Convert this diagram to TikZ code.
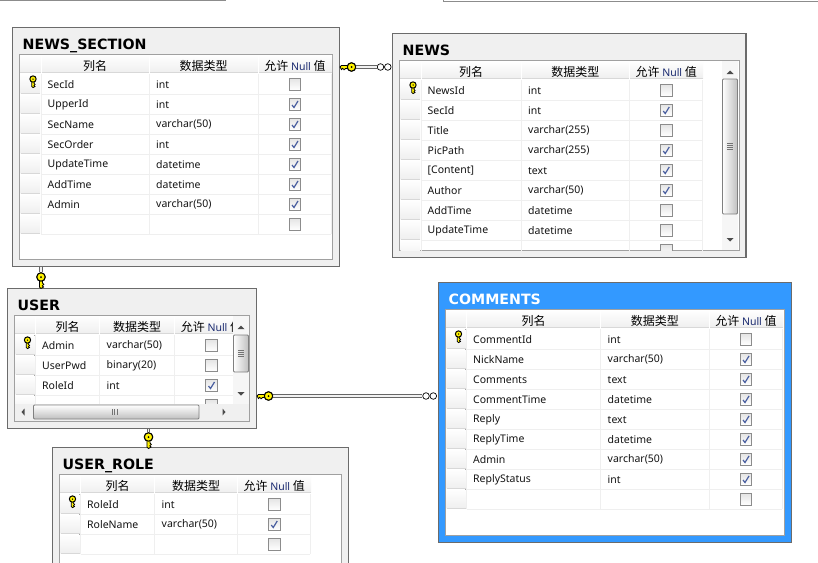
\documentclass[tikz,border=0pt]{standalone}
\usepackage{fontspec}
\setmainfont{Noto Sans}
\newfontfamily\cjk{Noto Sans CJK SC}
\newfontfamily\titlefont{DejaVu Sans}
\usetikzlibrary{calc}
\definecolor{boxgrey}{HTML}{F0F0F0}
\definecolor{selblue}{HTML}{3399FF}
\definecolor{framegrey}{HTML}{A0A0A0}
\definecolor{gridgrey}{HTML}{EFEFEF}
\definecolor{headline}{HTML}{D8D8D8}
\definecolor{nullblue}{HTML}{1A2A70}
\definecolor{checkblue}{HTML}{4A5FA0}
\colorlet{boxcol}{boxgrey}
\colorlet{titlecol}{black}
% column edges and the lowest visible row pixel
\newcommand{\cols}[5]{\def\ca{#1}\def\cb{#2}\def\cc{#3}\def\cd{#4}\def\rowend{#5}}
\newcommand{\dbtable}[7]{
  \pgfmathsetmacro{\inl}{#3+7}
  \pgfmathsetmacro{\inr}{#5-7}
  \pgfmathsetmacro{\intop}{#4+27}
  \pgfmathsetmacro{\inbot}{#6-7}
  \pgfmathsetmacro{\headbot}{#4+45}
  \pgfmathsetmacro{\headtxt}{#4+38}
  \node [tablebox,minimum width=#5pt-#3pt,minimum height=#6pt-#4pt] (#1) at ({(#3+#5)/2},{(#4+#6)/2}) {};
  \node [tabletitle] (#1title) at (#3+10,#4+22.2) {#2};
  \node [tableframe,minimum width=\inr pt-\inl pt,minimum height=\inbot pt-\intop pt] (#1frame) at ({(\inl+\inr)/2},{(\intop+\inbot)/2}) {};
  \begin{scope}
    \clip (\inl+.5,\intop+.5) rectangle (\inr-.5,\rowend);
    \fill [top color=white,bottom color=gridgrey] (\inl,\intop) rectangle (\cd,\headbot);
    \draw [headline,line width=1.6pt] (\inl,\headbot) -- (\cd,\headbot);
    \foreach \hx in {\ca,\cb,\cc}
      \draw [white,line width=1pt] (\hx,\intop) -- (\hx,\headbot);
    \node [headtext] (#1h1) at ({(\ca+\cb)/2},\headtxt) {\cjk 列名};
    \node [headtext] (#1h2) at ({(\cb+\cc)/2},\headtxt) {\cjk 数据类型};
    \node [headtext] (#1h3) at ({(\cc+\cd)/2},\headtxt) {\cjk 允许 {\fontsize{10.5}{12}\selectfont\rmfamily\color{nullblue}Null} 值};
    \foreach \cname/\ctype/\cnull [count=\i from 0] in {#7} {
      \pgfmathsetmacro{\rt}{#4+46.5+20*\i}
      \pgfmathsetmacro{\rb}{\rt+20}
      \pgfmathsetmacro{\rm}{\rt+10}
      \fill [top color=white,bottom color=gridgrey] (\inl+1,\rt) rectangle (\ca-1,\rb-1);
      \draw [headline] (\inl+1,\rb-1) -- (\ca-1,\rb-1);
      \draw [gridgrey] (\ca,\rb) -- (\cd-1,\rb);
      \foreach \hx in {\ca,\cb,\cc}
        \draw [gridgrey] (\hx,\rt) -- (\hx,\rb);
      \draw [gridgrey] (\cd-1,\rt) -- (\cd-1,\rb);
      \node [rowtext] (#1n\i) at (\ca+6.5,\rm+.8) {\cname};
      \node [rowtext] (#1t\i) at (\cb+7,\rm+.8) {\ctype};
      \node [checkbox] (#1c\i) at ({(\cc+\cd)/2},\rm+.5) {};
      \ifnum\cnull=1
        \draw [checkmark] ($(#1c\i)+(-3,.5)$) -- ($(#1c\i)+(-1,3)$) -- ($(#1c\i)+(3,-3.5)$);
      \fi
    }
    \pic [rotate=90,scale=.75] at ({\ca-8},#4+51.5) {relkey};
  \end{scope}
}
% x0,x1 track, y0,y1 track, thumb top and bottom
\newcommand{\vscroll}[6]{
  \fill [boxgrey!60!white] (#1,#3) rectangle (#2,#4);
  \draw [thumb,top color=boxgrey,bottom color=boxgrey,left color=white,right color=black!25] (#1+.5,#5) rectangle (#2-.5,#6);
  \fill [black!70] ({(#1+#2)/2-3.5},#3+13) -- ({(#1+#2)/2+3.5},#3+13) -- ({(#1+#2)/2},#3+9.5) -- cycle;
  \fill [black!70] ({(#1+#2)/2-3.5},#4-12) -- ({(#1+#2)/2+3.5},#4-12) -- ({(#1+#2)/2},#4-8.5) -- cycle;
  \foreach \gy in {-3,-1,1,3}
    \draw [black!55,line width=.6pt] ({(#1+#2)/2-3},{(#5+#6)/2+\gy}) -- ({(#1+#2)/2+3},{(#5+#6)/2+\gy});
}
\tikzset{
  relkey/.pic={
    \draw [black,fill=yellow,line width=.8pt] (-3,-1.6) -- (-10,-1.6) -- (-11.5,0) -- (-10,2.6) -- (-8.8,1.3) -- (-7.4,2.8) -- (-6,1.5) -- (-3,1.6) -- cycle;
    \draw [black,fill=yellow,line width=1pt] (0,0) circle (4.2);
    \fill [black] (0,0) circle (1);
  }
}
\begin{document}
\begin{tikzpicture}[x=1pt,y=-1pt]
  \tikzstyle{tablebox}=[draw=black!58,line width=1.2pt,fill=boxcol,inner sep=0pt]
  \tikzstyle{tabletitle}=[anchor=base west,inner sep=0pt,text=titlecol,font=\titlefont\fontsize{14.2}{16}\selectfont\bfseries]
  \tikzstyle{tableframe}=[draw=framegrey,line width=1pt,fill=white,inner sep=0pt]
  \tikzstyle{headtext}=[inner sep=0pt,font=\fontsize{12}{14}\selectfont]
  \tikzstyle{rowtext}=[anchor=west,inner sep=0pt,text=black!92,font=\fontsize{10.5}{12}\selectfont]
  \tikzstyle{checkbox}=[rectangle,draw=black!45,line width=.9pt,top color=black!10,bottom color=white,minimum size=11.5pt,inner sep=0pt]
  \tikzstyle{checkmark}=[draw=checkblue,line width=1.2pt]
  \tikzstyle{thumb}=[draw=black!50,line width=.8pt,rounded corners=1pt]
  \tikzstyle{relline}=[draw=black!60,line width=1pt,double=black!5,double distance=1.4pt]
  \tikzstyle{bow}=[circle,draw=black,line width=1pt,fill=yellow,minimum size=8.4pt,inner sep=0pt]
  \tikzstyle{many}=[circle,draw=black,line width=.7pt,fill=white,minimum size=6.6pt,inner sep=0pt]
  \clip (0,0) rectangle (818,562);
  \fill [white] (0,0) rectangle (818,562);
  \draw [black!45,line width=1.6pt] (0,.6) -- (226,.6);
  \draw [black!45,line width=1pt] (443.5,0) -- (443.5,1) -- (818,1);

  \cols{41}{149}{258}{332}{259}
  \dbtable{section}{NEWS\_SECTION}{12.5}{27.5}{339.5}{266.5}{
    SecId/int/0,UpperId/int/1,SecName/varchar(50)/1,SecOrder/int/1,
    UpdateTime/datetime/1,AddTime/datetime/1,Admin/varchar(50)/1, / /0}

  \cols{421}{521}{629.5}{703}{250}
  \dbtable{news}{NEWS}{392.5}{33.5}{746}{257.5}{
    NewsId/int/0,SecId/int/1,Title/varchar(255)/0,PicPath/varchar(255)/1,
    {[Content]}/text/1,Author/varchar(50)/1,AddTime/datetime/0,UpdateTime/datetime/0, / /0}
  \vscroll{722}{738}{61}{250}{79}{214}

  \cols{35.5}{99.5}{174.5}{248.5}{404}
  \dbtable{user}{USER}{7.5}{288.5}{256.5}{428.5}{
    Admin/varchar(50)/0,UserPwd/binary(20)/0,RoleId/int/1, / /0}
  \vscroll{233}{249}{316}{404}{335}{372}
  \fill [boxgrey] (15,404) rectangle (249,421);
  \draw [thumb,left color=boxgrey,right color=boxgrey,top color=white,bottom color=black!25] (33.5,405) rectangle (199,419);
  \fill [black!70] (24.5,408.5) -- (24.5,415.5) -- (21.5,412) -- cycle;
  \fill [black!70] (222.5,408.5) -- (222.5,415.5) -- (225.5,412) -- cycle;
  \foreach \gx in {112,114.5,117}
    \draw [black!55,line width=.7pt] (\gx,409) -- (\gx,415);

  \cols{80.5}{154.5}{237.5}{311}{600}
  \dbtable{role}{USER\_ROLE}{52.5}{447.5}{348.5}{600}{
    RoleId/int/0,RoleName/varchar(50)/1, / /0}

  \colorlet{boxcol}{selblue}
  \colorlet{titlecol}{white}
  \cols{466.5}{600.5}{709}{783}{535}
  \dbtable{comments}{COMMENTS}{438.5}{282.5}{791.5}{542.5}{
    CommentId/int/0,NickName/varchar(50)/1,Comments/text/1,CommentTime/datetime/1,
    Reply/text/1,ReplyTime/datetime/1,Admin/varchar(50)/1,ReplyStatus/int/1, / /0}

  % relationships
  \node [many] (m1) at (380.5,67) {};
  \node [many,right=0pt] (m1b) at (m1.east) {};
  \node [many] (m4) at (426,396) {};
  \node [many,right=0pt] (m4b) at (m4.east) {};
  \node [bow] (k1) at (351.5,67) {};
  \node [bow] (k2) at (41,277) {};
  \node [bow] (k3) at (148.5,437) {};
  \node [bow] (k4) at (268.5,396) {};
  \draw [relline] (k1.east) -- (m1.west);
  \draw [relline] (k4.east) -- (m4.west);
  \draw [relline] (k2 |- section.south) -- (k2.north);
  \draw [relline] (k3 |- user.south) -- (k3.north);
  \foreach \kk in {k1,k4}
    \pic at (\kk) {relkey};
  \foreach \kk in {k2,k3}
    \pic [rotate=90] at (\kk) {relkey};
\end{tikzpicture}
\end{document}
